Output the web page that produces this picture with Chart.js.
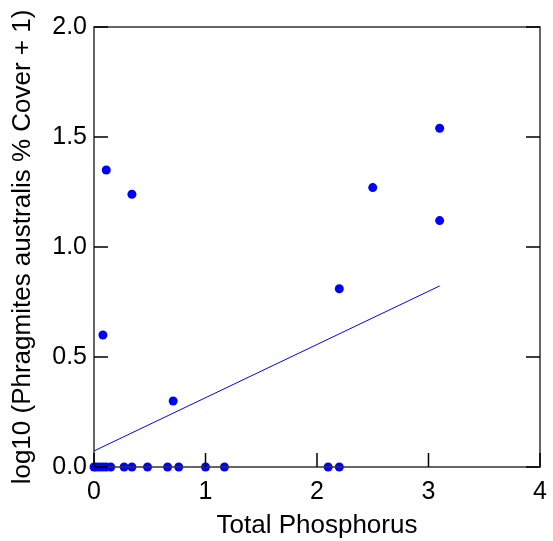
<!DOCTYPE html>
<html>
<head>
<meta charset="utf-8">
<script src="https://cdn.jsdelivr.net/npm/chart.js@4/dist/chart.umd.min.js"></script>
<style>
	html, body { margin: 0; padding: 0; background: #fff; }
	#wrap { width: 553px; height: 541px; }
</style>
</head>
<body>
<div id="wrap"><canvas id="tp-chart"></canvas></div>
<script>
// observed values
const phosphorus = [0, 0.02, 0.05, 0.08, 0.11, 0.15, 0.27, 0.34, 0.48, 0.66, 0.76, 1.0, 1.17, 2.1, 2.2,
	0.08, 0.11, 0.34, 0.71, 2.2, 2.5, 3.1, 3.1];
const coverLog = [0, 0, 0, 0, 0, 0, 0, 0, 0, 0, 0, 0, 0, 0, 0,
	0.60, 1.35, 1.24, 0.30, 0.81, 1.27, 1.54, 1.12];

// fitted line ends
const fitX = [0, 3.1];
const fitY = [0.073, 0.823];

const xTicks = [0, 1, 2, 3, 4];
const yTicks = [0, 0.5, 1.0, 1.5, 2.0];

const frameColor = '#333';
const tickFont = { family: '"Liberation Sans", Arial, sans-serif', size: 25 };
const titleFont = { family: '"Liberation Sans", Arial, sans-serif', size: 26 };

// box around the plot with inward ticks
const frameTicks = {
	id: 'frameTicks',
	afterDatasetsDraw(chart) {
		const { ctx, chartArea: a, scales } = chart;
		const len = 14;
		ctx.save();
		ctx.strokeStyle = frameColor;
		ctx.lineWidth = 1.5;
		ctx.strokeRect(a.left, a.top, a.right - a.left, a.bottom - a.top);
		ctx.strokeStyle = '#000';
		ctx.beginPath();
		xTicks.forEach((v) => {
			const px = scales.x.getPixelForValue(v);
			ctx.moveTo(px, a.bottom);
			ctx.lineTo(px, a.bottom - len);
		});
		yTicks.forEach((v) => {
			const py = scales.y.getPixelForValue(v);
			ctx.moveTo(a.left, py);
			ctx.lineTo(a.left + len, py);
			ctx.moveTo(a.right, py);
			ctx.lineTo(a.right - len, py);
		});
		ctx.stroke();
		ctx.restore();
	},
};

function tpChart() {
	const ctx = document.getElementById('tp-chart');

	if (!ctx) {
		return;
	}

	new Chart(ctx, {
		type: 'scatter',
		data: {
			datasets: [
				{
					data: phosphorus.map((x, i) => ({ x: x, y: coverLog[i] })),
					backgroundColor: '#0000ff',
					borderColor: '#0000ff',
					pointRadius: 4.5,
					pointBorderWidth: 0,
					clip: false,
					order: 1,
				},
				{
					type: 'line',
					data: fitX.map((x, i) => ({ x: x, y: fitY[i] })),
					borderColor: '#0000ff',
					borderWidth: 1,
					pointRadius: 0,
					fill: false,
					order: 2,
				},
			],
		},
		options: {
			responsive: true,
			maintainAspectRatio: false,
			animation: false,
			layout: {
				padding: { top: 27, right: 13, left: 0, bottom: 0 },
			},
			plugins: {
				legend: { display: false },
				tooltip: { enabled: false },
			},
			scales: {
				x: {
					type: 'linear',
					min: 0,
					max: 4,
					afterFit: (s) => {
						s.height = 74;
						s.paddingLeft = 0;
						s.paddingRight = 0;
					},
					afterBuildTicks: (s) => { s.ticks = xTicks.map((v) => ({ value: v })); },
					grid: { display: false, drawTicks: false },
					border: { display: false },
					ticks: {
						color: '#000',
						font: tickFont,
						padding: 10,
						maxRotation: 0,
						callback: (v) => String(v),
					},
					title: {
						display: true,
						text: 'Total Phosphorus',
						color: '#000',
						font: titleFont,
						padding: { top: 0, bottom: 0 },
					},
				},
				y: {
					type: 'linear',
					min: 0,
					max: 2,
					afterFit: (s) => {
						s.width = 94;
						s.paddingTop = 0;
						s.paddingBottom = 0;
					},
					afterBuildTicks: (s) => { s.ticks = yTicks.map((v) => ({ value: v })); },
					grid: { display: false, drawTicks: false },
					border: { display: false },
					ticks: {
						color: '#000',
						font: tickFont,
						padding: 7,
						callback: (v) => v.toFixed(1),
					},
					title: {
						display: true,
						text: 'log10 (Phragmites australis % Cover + 1)',
						color: '#000',
						font: titleFont,
						padding: { top: 7, bottom: 0 },
					},
				},
			},
		},
		plugins: [frameTicks],
	});
}

tpChart();
</script>
</body>
</html>
